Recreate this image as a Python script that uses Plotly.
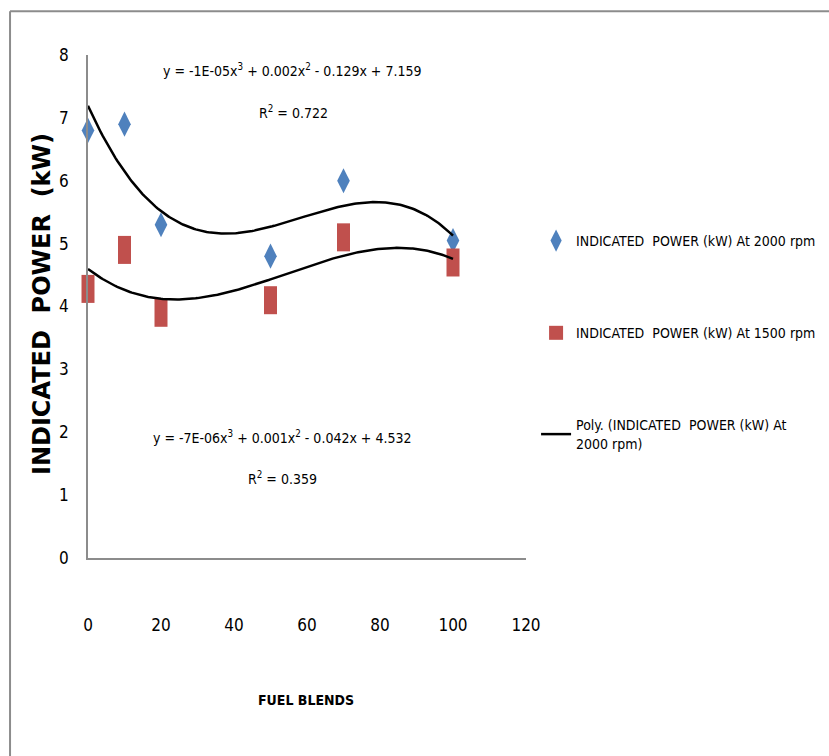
import numpy as np
import plotly.graph_objects as go

# Fuel blend (%) and measured indicated power (kW)
blends = [0, 10, 20, 50, 70, 100]
power_2000 = [6.8, 6.9, 5.3, 4.8, 6.0, 5.05]
power_1500 = [4.28, 4.9, 3.9, 4.1, 5.1, 4.7]

x_ticks = [0, 20, 40, 60, 80, 100, 120]
y_ticks = [0, 1, 2, 3, 4, 5, 6, 7, 8]

eq_2000 = "y = -1E-05x<sup>3</sup> + 0.002x<sup>2</sup> - 0.129x + 7.159"
r2_2000 = "R<sup>2</sup> = 0.722"
eq_1500 = "y = -7E-06x<sup>3</sup> + 0.001x<sup>2</sup> - 0.042x + 4.532"
r2_1500 = "R<sup>2</sup> = 0.359"

BLUE = "#4F81BD"
RED = "#C0504D"
NARROW = "DejaVu Sans Condensed, Liberation Sans Narrow, sans-serif"

# third-order polynomial trendlines fitted to each series
xs = np.linspace(0, 100, 201)
fit_2000 = np.polyval(np.polyfit(blends, power_2000, 3), xs)
fit_1500 = np.polyval(np.polyfit(blends, power_1500, 3), xs)

fig = go.Figure()

fig.add_trace(go.Scatter(
    x=blends, y=power_2000, mode="markers", cliponaxis=False,
    name="INDICATED  POWER (kW) At 2000 rpm", legendgroup="a",
    marker=dict(symbol="diamond-tall", size=18, color=BLUE, line=dict(width=0)),
))
# tall red blocks for the 1500 rpm readings
fig.add_trace(go.Scatter(
    x=blends, y=power_1500, mode="markers", cliponaxis=False, showlegend=False,
    legendgroup="b",
    marker=dict(symbol="line-ns", size=20, color=RED, line=dict(width=13, color=RED)),
))
# legend swatch for the 1500 rpm series
fig.add_trace(go.Scatter(
    x=[None], y=[None], mode="markers",
    name="INDICATED  POWER (kW) At 1500 rpm", legendgroup="b",
    marker=dict(symbol="square", size=14, color=RED, line=dict(width=0)),
))
fig.add_trace(go.Scatter(
    x=xs, y=fit_2000, mode="lines",
    name="Poly. (INDICATED  POWER (kW) At<br>2000 rpm)", legendgroup="c",
    line=dict(color="black", width=2.5),
))
fig.add_trace(go.Scatter(
    x=xs, y=fit_1500, mode="lines", showlegend=False,
    line=dict(color="black", width=2.5),
))

annots = [
    dict(x=55.9, y=7.76, text=eq_2000),
    dict(x=56.2, y=7.09, text=r2_2000),
    dict(x=53.2, y=1.92, text=eq_1500),
    dict(x=53.4, y=1.27, text=r2_1500),
]
for a in annots:
    fig.add_annotation(x=a["x"], y=a["y"], text=a["text"], showarrow=False,
                       xref="x", yref="y", xanchor="center", yanchor="middle",
                       font=dict(family=NARROW, size=14, color="black"))

# axis titles
fig.add_annotation(x=-0.105, y=0.505, xref="paper", yref="paper",
                   text="INDICATED  POWER  (kW)", textangle=-90, showarrow=False,
                   xanchor="center", yanchor="middle",
                   font=dict(family="DejaVu Sans", size=24, color="black", weight="bold"))
fig.add_annotation(x=0.497, y=-0.282, xref="paper", yref="paper",
                   text="FUEL BLENDS", showarrow=False,
                   xanchor="center", yanchor="middle",
                   font=dict(family=NARROW, size=14, color="black", weight="bold"))

# outer chart frame (top and left edges)
fig.add_shape(type="line", xref="paper", yref="paper", x0=-0.178, x1=1.75, y0=1.087, y1=1.087,
              line=dict(color="#8C8C8C", width=2))
fig.add_shape(type="line", xref="paper", yref="paper", x0=-0.178, x1=-0.178, y0=1.087, y1=-0.42,
              line=dict(color="#8C8C8C", width=2))

fig.update_layout(
    width=829, height=756,
    margin=dict(l=88, r=303, t=55, b=198, autoexpand=False),
    paper_bgcolor="white", plot_bgcolor="white",
    showlegend=True,
    legend=dict(x=1.023, y=0.662, xanchor="left", yanchor="top",
                font=dict(family=NARROW, size=14, color="black"),
                tracegroupgap=71, itemwidth=30, bgcolor="rgba(0,0,0,0)"),
    font=dict(family=NARROW, color="black"),
)
fig.update_xaxes(range=[0, 120], tickvals=x_ticks, ticktext=[str(v) for v in x_ticks],
                 showgrid=False, zeroline=False, showline=True, linecolor="#8C8C8C",
                 linewidth=1.5, ticks="", ticklabelstandoff=51,
                 tickfont=dict(family=NARROW, size=17, color="black"))
fig.update_yaxes(range=[0, 8], tickvals=y_ticks, ticktext=[str(v) for v in y_ticks],
                 showgrid=False, zeroline=False, showline=True, linecolor="#8C8C8C",
                 linewidth=1.5, ticks="", ticklabelstandoff=14,
                 tickfont=dict(family=NARROW, size=17, color="black"))

fig.write_html("out.html")
